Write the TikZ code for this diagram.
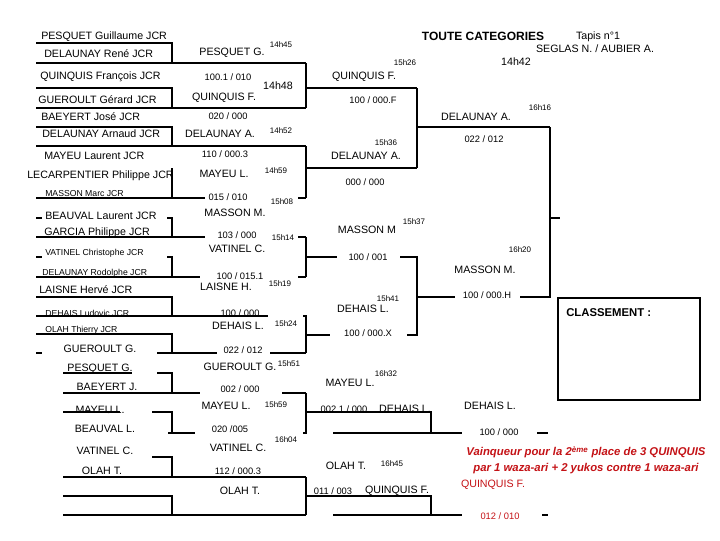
\documentclass[tikz,border=0pt]{standalone}
\usepackage{fontspec}
\setmainfont{Liberation Sans}
\usepackage{tikz}
\definecolor{redtxt}{RGB}{196,18,22}
\tikzset{player/.style = {anchor = west, inner sep = 0pt, font = \fontsize{8}{9}\selectfont}}
\tikzset{tiny/.style = {anchor = west, inner sep = 0pt, font = \fontsize{6.5}{7}\selectfont}}
\tikzset{winner/.style = {inner sep = 0pt, font = \fontsize{8}{9}\selectfont}}
\tikzset{score/.style = {inner sep = 0pt, font = \fontsize{7}{8}\selectfont}}
\tikzset{hour/.style = {inner sep = 0pt, font = \fontsize{6}{7}\selectfont}}
\tikzset{bar/.style = {line width = 2.2pt}}
\tikzset{fine/.style = {line width = 0.8pt}}

\begin{document}
\begin{tikzpicture}[x = 0.75pt, y = -0.75pt]
	\useasboundingbox (0, 0) rectangle (720, 540);

	% header
	\node[inner sep = 0pt, font = \fontsize{9}{10}\selectfont\bfseries] (title) at (483, 36) {TOUTE CATEGORIES};
	\node[winner] (tapis) at (598, 37) {Tapis n°1};
	\node[winner] (arb) at (595, 49) {SEGLAS N. / AUBIER A.};
	\node[winner] (t0) at (516, 62) {14h42};

	% first round
	\node[player] (p1) at (41, 37) {PESQUET Guillaume JCR};
	\node[player] (p2) at (44, 54) {DELAUNAY René JCR};
	\node[player] (p3) at (40, 77) {QUINQUIS François JCR};
	\node[player] (p4) at (38, 100) {GUEROULT Gérard JCR};
	\node[player] (p5) at (41, 117) {BAEYERT José JCR};
	\node[player] (p6) at (42, 134) {DELAUNAY Arnaud JCR};
	\node[player] (p7) at (44, 156) {MAYEU Laurent JCR};
	\node[player] (p8) at (27, 176) {LECARPENTIER Philippe JCR};
	\node[tiny] (p9) at (45, 194) {MASSON Marc JCR};
	\node[player] (p10) at (45, 216) {BEAUVAL Laurent JCR};
	\node[player] (p11) at (44, 233) {GARCIA Philippe JCR};
	\node[tiny] (p12) at (45, 253) {VATINEL Christophe JCR};
	\node[tiny] (p13) at (42, 273) {DELAUNAY Rodolphe JCR};
	\node[player] (p14) at (39, 290) {LAISNE Hervé JCR};
	\node[tiny] (p15) at (45, 313) {DEHAIS Ludovic JCR};
	\node[tiny] (p16) at (45, 330) {OLAH Thierry JCR};

	\draw[bar] (36, 43) -| (172, 63);
	\draw[bar] (36, 63) -- (306, 63);
	\draw[bar] (36, 88) -| (172, 108);
	\draw[bar] (36, 108) -- (306, 108);
	\draw[bar] (36, 127) -| (172, 146);
	\draw[bar] (36, 146) -- (306, 146);
	\draw[bar] (172, 168) -- (172, 198);
	\draw[bar] (36, 198) -- (205, 198);
	\draw[bar] (298, 198) -- (306, 198);

	\draw[bar] (36, 218) -- (42, 218);
	\draw[bar] (167, 218) -| (172, 237);
	\draw[bar] (36, 237) -- (205, 237);
	\draw[bar] (298, 237) -- (306, 237);
	\draw[bar] (36, 257) -- (42, 257);
	\draw[bar] (167, 257) -| (172, 277);
	\draw[bar] (36, 277) -- (200, 277);
	\draw[bar] (298, 277) -- (306, 277);
	\draw[bar] (36, 297) -| (172, 316);
	\draw[bar] (36, 316) -- (268, 316);
	\draw[bar] (36, 334) -| (172, 353);
	\draw[bar] (36, 353) -- (42, 353);
	\draw[bar] (157, 353) -- (217, 353);
	\draw[bar] (270, 353) -- (306, 353);

	% second round
	\node[winner] (w1) at (232, 53) {PESQUET G.};
	\node[score] (s1) at (228, 77) {100.1 / 010};
	\node[winner] (w2) at (224, 98) {QUINQUIS F.};
	\node[score] (s2) at (228, 116) {020 / 000};
	\node[winner] (w3) at (220, 134) {DELAUNAY A.};
	\node[score] (s3) at (225, 154) {110 / 000.3};
	\node[winner] (w4) at (224, 174) {MAYEU L.};
	\node[score] (s4) at (228, 197) {015 / 010};
	\node[winner] (w5) at (235, 213) {MASSON M.};
	\node[score] (s5) at (237, 235) {103 / 000};
	\node[winner] (w6) at (237, 249) {VATINEL C.};
	\node[score] (s6) at (240, 276) {100 / 015.1};
	\node[winner] (w7) at (226, 287) {LAISNE H.};
	\node[score] (s7) at (240, 313) {100 / 000};
	\node[winner] (w8) at (238, 326) {DEHAIS L.};
	\node[score] (s8) at (243, 350) {022 / 012};

	\node[hour] (h1) at (281, 45) {14h45};
	\node[winner] (h2) at (278, 86) {14h48};
	\node[hour] (h3) at (281, 131) {14h52};
	\node[hour] (h4) at (276, 171) {14h59};
	\node[hour] (h5) at (282, 202) {15h08};
	\node[hour] (h6) at (283, 238) {15h14};
	\node[hour] (h7) at (280, 284) {15h19};
	\node[hour] (h8) at (286, 324) {15h24};

	\draw[bar] (306, 63) -- (306, 108);
	\draw[bar] (306, 88) -- (417, 88);
	\draw[bar] (306, 146) -- (306, 198);
	\draw[bar] (306, 168) -- (417, 168);
	\draw[bar] (306, 237) -- (306, 277);
	\draw[bar] (306, 257) -- (337, 257);
	\draw[bar] (303, 316) -- (306, 316) -- (306, 353);
	\draw[bar] (306, 335) -- (330, 335);

	% third round
	\node[winner] (w9) at (364, 77) {QUINQUIS F.};
	\node[score] (s9) at (373, 100) {100 / 000.F};
	\node[winner] (w10) at (366, 156) {DELAUNAY A.};
	\node[score] (s10) at (365, 182) {000 / 000};
	\node[winner] (w11) at (367, 230) {MASSON M};
	\node[score] (s11) at (368, 257) {100 / 001};
	\node[winner] (w12) at (363, 309) {DEHAIS L.};
	\node[score] (s12) at (368, 333) {100 / 000.X};
	\node[hour] (h9) at (405, 63) {15h26};
	\node[hour] (h10) at (386, 143) {15h36};
	\node[hour] (h11) at (414, 222) {15h37};
	\node[hour] (h12) at (388, 299) {15h41};

	\draw[bar] (417, 88) -- (417, 168);
	\draw[bar] (417, 127) -- (550, 127);
	\draw[bar] (400, 257) -- (417, 257) -- (417, 335) -- (407, 335);
	\draw[bar] (417, 297) -- (455, 297);

	% final
	\node[winner] (w13) at (476, 117) {DELAUNAY A.};
	\node[score] (s13) at (484, 139) {022 / 012};
	\node[winner] (w14) at (485, 270) {MASSON M.};
	\node[score] (s14) at (487, 295) {100 / 000.H};
	\node[hour] (h13) at (540, 108) {16h16};
	\node[hour] (h14) at (520, 250) {16h20};

	\draw[bar] (520, 297) -- (550, 297) -- (550, 127);
	\draw[bar] (550, 218) -- (560, 218);

	% repechage
	\node[winner] (r1) at (100, 349) {GUEROULT G.};
	\node[winner] (r2) at (100, 369) {PESQUET G.};
	\node[winner] (r3) at (107, 387) {BAEYERT J.};
	\node[winner] (r4) at (100, 410) {MAYEU L.};
	\node[winner] (r5) at (105, 429) {BEAUVAL L.};
	\node[winner] (r6) at (105, 451) {VATINEL C.};
	\node[winner] (r7) at (102, 471) {OLAH T.};

	\draw[bar] (63, 373) -- (132, 373);
	\draw[bar] (157, 373) -| (172, 393);
	\draw[bar] (63, 393) -- (200, 393);
	\draw[bar] (282, 393) -- (306, 393);
	\draw[bar] (63, 412) -- (120, 412);
	\draw[bar] (152, 412) -| (172, 433);
	\draw[bar] (168, 433) -- (195, 433);
	\draw[bar] (152, 457) -| (172, 477);
	\draw[bar] (63, 477) -- (306, 477);
	\draw[bar] (63, 496) -| (172, 515);
	\draw[bar] (63, 515) -- (306, 515);

	\node[winner] (r8) at (240, 367) {GUEROULT G.};
	\node[score] (rs1) at (240, 389) {002 / 000};
	\node[winner] (r9) at (226, 406) {MAYEU L.};
	\node[score] (rs2) at (230, 429) {020 /005};
	\node[winner] (r10) at (238, 448) {VATINEL C.};
	\node[score] (rs3) at (238, 471) {112 / 000.3};
	\node[winner] (r11) at (240, 491) {OLAH T.};
	\node[hour] (h15) at (289, 364) {15h51};
	\node[hour] (h16) at (276, 405) {15h59};
	\node[hour] (h17) at (286, 440) {16h04};

	\draw[bar] (306, 393) -- (306, 433) -- (303, 433);
	\draw[bar] (306, 412) -- (318, 412);
	\draw[fine] (318, 412) -- (431, 412);
	\draw[bar] (431, 411) -- (431, 433);
	\draw[bar] (333, 433) -- (462, 433);
	\draw[bar] (306, 477) -- (306, 515);
	\draw[fine] (306, 496) -- (431, 496);
	\draw[bar] (431, 495) -- (431, 515);
	\draw[bar] (333, 515) -- (462, 515);

	\node[winner] (r12) at (350, 383) {MAYEU L.};
	\node[score] (rs4) at (344, 409) {002 1 / 000};
	\node[winner] (r13) at (405, 409) {DEHAIS L.};
	\node[winner] (r14) at (346, 466) {OLAH T.};
	\node[score] (rs5) at (333, 491) {011 / 003};
	\node[winner] (r15) at (397, 491) {QUINQUIS F.};
	\node[hour] (h18) at (386, 374) {16h32};
	\node[hour] (h19) at (392, 464) {16h45};

	% bronze
	\node[winner] (b1) at (490, 406) {DEHAIS L.};
	\node[score] (bs1) at (499, 432) {100 / 000};
	\draw[bar] (537, 433) -- (548, 433);
	\node[winner, text = redtxt] (b2) at (493, 485) {QUINQUIS F.};
	\node[score, text = redtxt] (bs2) at (500, 516) {012 / 010};
	\draw[bar] (440, 515) -- (462, 515);
	\draw[bar] (542, 515) -- (548, 515);
	\node[inner sep = 0pt, align = center, text = redtxt, font = \fontsize{8.5}{11.5}\selectfont\bfseries\itshape] (note) at (586, 460)
		{Vainqueur pour la 2\textsuperscript{ème} place de 3 QUINQUIS\\par 1 waza-ari + 2 yukos contre 1 waza-ari};

	% ranking
	\draw[fine] (558, 298) rectangle (700, 400);
	\node[anchor = west, inner sep = 0pt, font = \fontsize{8.5}{10}\selectfont\bfseries] (rank) at (566, 313) {CLASSEMENT :};
\end{tikzpicture}
\end{document}
